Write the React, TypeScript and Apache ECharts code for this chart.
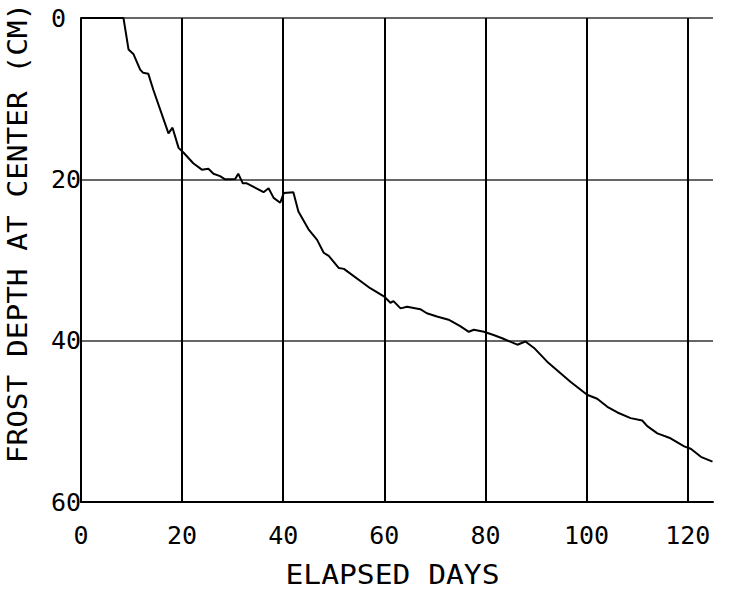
import React, { useEffect, useRef } from "react";
import * as echarts from "echarts";

const days = [
  0, 8.4, 9.4, 10.4, 11.7, 12.3, 13.3, 14.3, 17.3, 18.1, 19.3, 20.3, 22.2, 23.9,
  25.2, 26.2, 27.5, 28.5, 29.5, 30.5, 31.1, 32.0, 32.8, 36.1, 37.1, 38.1, 39.4,
  40.1, 42.0, 43.0, 45.0, 46.7, 48.0, 49.0, 51.0, 52.0, 57.2, 59.9, 61.2, 61.8,
  63.2, 64.5, 67.1, 68.4, 70.4, 72.7, 75.0, 76.7, 77.7, 79.7, 81.6, 83.3, 86.3,
  87.9, 89.6, 92.2, 96.8, 100.1, 102.1, 104.1, 106.1, 108.7, 111.0, 112.0,
  114.0, 116.6, 119.3, 120.6, 122.6, 124.9,
];
const depth = [
  0, 0, 3.9, 4.5, 6.4, 6.8, 6.9, 8.9, 14.3, 13.6, 16.1, 16.7, 18.0, 18.8, 18.7,
  19.3, 19.6, 20.0, 20.0, 19.95, 19.3, 20.5, 20.5, 21.6, 21.1, 22.3, 22.9, 21.7,
  21.6, 24.0, 26.2, 27.5, 29.1, 29.5, 31.0, 31.1, 33.5, 34.5, 35.3, 35.1, 36.0,
  35.8, 36.1, 36.6, 37.0, 37.4, 38.2, 38.9, 38.65, 38.9, 39.3, 39.7, 40.5, 40.1,
  40.9, 42.6, 45.1, 46.7, 47.2, 48.2, 48.9, 49.6, 49.9, 50.6, 51.5, 52.1, 53.1,
  53.4, 54.4, 55.0,
];
const xTicks = [0, 20, 40, 60, 80, 100, 120];
const xGridDays = [20, 40, 60, 80, 100, 120];
const xTitle = "ELAPSED DAYS";
const yTitle = "FROST DEPTH AT CENTER (CM)";

const FONT = '"DejaVu Sans Mono", "Liberation Mono", monospace';

export default function App() {
  const ref = useRef<HTMLDivElement>(null);
  useEffect(() => {
    if (!ref.current) return;
    const chart = echarts.init(ref.current, null, { renderer: "svg" });
    const data = days.map((d, i) => [d, depth[i]]);
    chart.setOption({
      animation: false,
      backgroundColor: "#fff",
      grid: {
        left: 81,
        top: 18,
        width: 632,
        height: 484,
        containLabel: false,
        outerBoundsMode: "none",
      },
      xAxis: {
        type: "value",
        min: 0,
        max: 125,
        interval: 20,
        position: "bottom",
        axisLine: { show: true, onZero: false, lineStyle: { color: "#000", width: 2 } },
        axisTick: { show: false },
        splitLine: { show: false },
        axisLabel: {
          margin: 21,
          color: "#000",
          fontFamily: FONT,
          fontSize: 25,
          showMaxLabel: true,
          formatter: (v: number) => (xTicks.indexOf(v) >= 0 ? String(v) : ""),
        },
      },
      yAxis: {
        type: "value",
        inverse: true,
        min: 0,
        max: 60,
        interval: 20,
        axisLine: { show: true, onZero: false, lineStyle: { color: "#000", width: 2 } },
        axisTick: { show: false },
        splitLine: { show: true, lineStyle: { color: "#333", width: 1.5 } },
        axisLabel: {
          margin: 0,
          color: "#000",
          fontFamily: FONT,
          fontSize: 25,
          formatter: (v: number) => (v === 0 ? "0\u00a0" : String(v)),
        },
      },
      graphic: [
        {
          type: "text",
          x: 17.5,
          y: 233,
          rotation: Math.PI / 2,
          scaleX: 1.09,
          style: {
            text: yTitle,
            font: `27px ${FONT}`,
            fill: "#000",
            textAlign: "center",
            textVerticalAlign: "middle",
          },
        },
        {
          type: "text",
          x: 392.5,
          y: 575,
          scaleX: 1.14,
          style: {
            text: xTitle,
            font: `26px ${FONT}`,
            fill: "#000",
            textAlign: "center",
            textVerticalAlign: "middle",
          },
        },
      ],
      series: [
        {
          type: "line",
          data,
          showSymbol: false,
          symbol: "none",
          lineStyle: { color: "#000", width: 2 },
          z: 3,
          markLine: {
            silent: true,
            symbol: ["none", "none"],
            label: { show: false },
            lineStyle: { color: "#000", width: 2, type: "solid" },
            data: xGridDays.map((d) => ({ xAxis: d })),
          },
        },
      ],
    });
    return () => chart.dispose();
  }, []);
  return (
    <div
      ref={ref}
      style={{ position: "fixed", left: 0, top: 0, width: 732, height: 590, background: "#fff" }}
    />
  );
}
